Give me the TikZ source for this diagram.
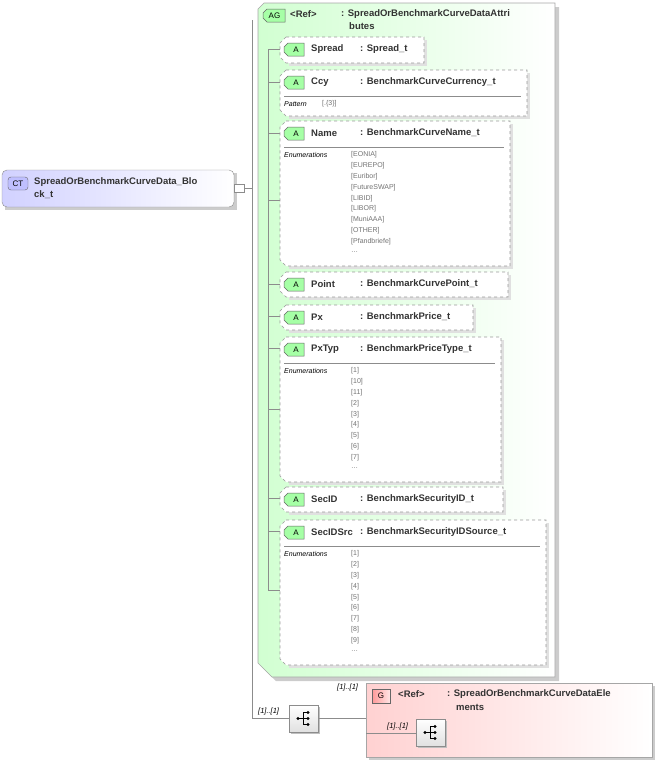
\documentclass[tikz,border=0pt]{standalone}
\usepackage{fontspec}
\setmainfont{Liberation Sans}
\begin{document}
\begin{tikzpicture}[x=1pt,y=-1pt,
  lbl/.style={anchor=west,inner sep=0,font=\fontsize{9.5}{10}\selectfont\bfseries,text=black!80},
  enm/.style={anchor=west,inner sep=0,font=\fontsize{7}{7}\selectfont,text=black!55},
  card/.style={anchor=west,inner sep=0,font=\fontsize{7.5}{8}\selectfont\itshape},
  wire/.style={draw=black!45,line width=0.6pt},
  abox/.style={draw=black!40,dashed,fill=white,line width=0.6pt},
  badge/.style={draw=black!60,fill=green!35!white,line width=0.5pt}]
\useasboundingbox (0,0) rectangle (656,761);
% CT
\fill[black!20] (5,173) rectangle (237,210);
\shade[left color=blue!18,right color=white,draw=black!45,rounded corners=5pt] (2,170) rectangle (234,207);
\draw[draw=black!60,fill=blue!25,rounded corners=3pt] (8,177) rectangle (28,190);
\node[inner sep=0,font=\fontsize{8}{8}\selectfont] (ctb) at (18,183.5) {CT};
\node[lbl] (ct) at (34,182) {SpreadOrBenchmarkCurveData\_Blo};
\node[lbl] (ct2) at (34,195) {ck\_t};
\draw[wire,fill=white] (234,184) rectangle (244,192);
\draw[wire] (244,188) -- (252,188);
\draw[wire] (252,20) -- (252,718) -- (289,718);
% AG
\fill[black!20] (262,7) -- (559,7) -- (559,681) -- (276,681) -- (262,667) -- cycle;
\shade[left color=green!18,right color=white,draw=black!35,line width=0.6pt] (264,3) -- (555,3) -- (555,677) -- (272,677) -- (258,663) -- (258,9) -- cycle;
\draw[badge,fill=green!35] (267,9) -- (285,9) -- (285,22) -- (267,22) -- (263,18) -- (263,13) -- cycle;
\node[inner sep=0,font=\fontsize{8}{8}\selectfont] (agb) at (274.5,15.5) {AG};
\node[lbl] (agr) at (290,14) {<Ref>};
\node[lbl] (agt) at (341,14) {: SpreadOrBenchmarkCurveDataAttri};
\node[lbl] (agt2) at (349,26) {butes};
\draw[wire] (268,49) -- (268,590);
\foreach \y in {49,82,133,200,284,316,348,409,498,531,590} \draw[wire] (268,\y) -- (280,\y);
% attribute macro
\newcommand\attrbox[7]{%
 \fill[black!12] (#2+9,#3+3) -- (#4+3,#3+3) -- (#4+3,#5+3) -- (#2+9,#5+3) -- cycle;
 \draw[abox] (#2+6,#3) -- (#4,#3) -- (#4,#5) -- (#2+6,#5) -- (#2,#5-6) -- (#2,#3+6) -- cycle;
 \draw[badge] (#2+8,#3+6) -- (#2+24,#3+6) -- (#2+24,#3+19) -- (#2+8,#3+19) -- (#2+4,#3+15) -- (#2+4,#3+10) -- cycle;
 \node[inner sep=0,font=\fontsize{8}{8}\selectfont] (#1b) at (#2+16,#3+12.5) {A};
 \node[lbl] (#1n) at (#2+31,#3+12) {#6};
 \node[lbl] (#1t) at (#2+80,#3+12) {#7};}
\newcommand\enums[4]{%
 \draw[black!45,line width=0.5pt] (#1+4,#2) -- (#3-6,#2);
 \node[anchor=west,inner sep=0,font=\fontsize{7}{7}\selectfont\itshape] at (#1+4,#2+8) {Enumerations};
 \foreach[count=\i] \t in {#4} \node[enm] at (#1+71,#2+8+10.8*\i-10.8) {\t};}
\attrbox{sp}{280}{37}{424}{63}{Spread}{: Spread\_t}
\attrbox{ccy}{280}{70}{527}{116}{Ccy}{: BenchmarkCurveCurrency\_t}
\draw[black!45,line width=0.5pt] (284,96) -- (521,96);
\node[anchor=west,inner sep=0,font=\fontsize{7}{7}\selectfont\itshape] (pat) at (284,104) {Pattern};
\node[enm] (patv) at (322,103.5) {[.\{3\}]};
\attrbox{nm}{280}{121}{510}{266}{Name}{: BenchmarkCurveName\_t}
\enums{280}{147}{510}{[EONIA],[EUREPO],[Euribor],[FutureSWAP],[LIBID],[LIBOR],[MuniAAA],[OTHER],[Pfandbriefe],\dots}
\attrbox{pt}{280}{272}{508}{297}{Point}{: BenchmarkCurvePoint\_t}
\attrbox{px}{280}{305}{473}{330}{Px}{: BenchmarkPrice\_t}
\attrbox{pxt}{280}{337}{501}{482}{PxTyp}{: BenchmarkPriceType\_t}
\enums{280}{363}{501}{[1],[10],[11],[2],[3],[4],[5],[6],[7],\dots}
\attrbox{sid}{280}{487}{503}{512}{SecID}{: BenchmarkSecurityID\_t}
\attrbox{sis}{280}{520}{546}{665}{SecIDSrc}{: BenchmarkSecurityIDSource\_t}
\enums{280}{546}{546}{[1],[2],[3],[4],[5],[6],[7],[8],[9],\dots}
% sequence icon
\newcommand\seqicon[3]{%
 \fill[black!25] (#2+2,#3+2) rectangle (#2+31,#3+29);
 \shade[top color=white,bottom color=black!12,draw=black!45] (#2,#3) rectangle (#2+29,#3+27);
 \coordinate (#1) at (#2+14.5,#3+13.5);
 \fill (#2+9,#3+13.5) circle (1.6);
 \draw[line width=0.6pt] (#2+9,#3+13.5) -- (#2+14,#3+13.5) (#2+14,#3+7.5) -- (#2+14,#3+19.5)
   (#2+14,#3+7.5) -- (#2+19,#3+7.5) (#2+14,#3+13.5) -- (#2+19,#3+13.5) (#2+14,#3+19.5) -- (#2+19,#3+19.5);
 \foreach \dy in {7.5,13.5,19.5} \fill (#2+19,#3+\dy) circle (1.6);}
\seqicon{ch1}{289}{705}
\node[card] (c1) at (258,712) {[1]..[1]};
\draw[wire] (318,718) -- (366,718);
% G
\fill[black!20] (369,686) rectangle (655,760);
\shade[left color=red!18,right color=white,draw=black!35] (366,683) rectangle (652,757);
\draw[draw=black!60,left color=red!40,right color=red!10] (372,689) rectangle (390,703);
\node[inner sep=0,font=\fontsize{8}{8}\selectfont] (gb) at (381,696) {G};
\node[lbl] (gr) at (398,694) {<Ref>};
\node[lbl] (gt) at (447,694) {: SpreadOrBenchmarkCurveDataEle};
\node[lbl] (gt2) at (456,707) {ments};
\node[card] (c2) at (337,688) {[1]..[1]};
\draw[wire] (366,733) -- (416,733);
\seqicon{ch2}{416}{719}
\node[card] (c3) at (387,727) {[1]..[1]};
\end{tikzpicture}
\end{document}
